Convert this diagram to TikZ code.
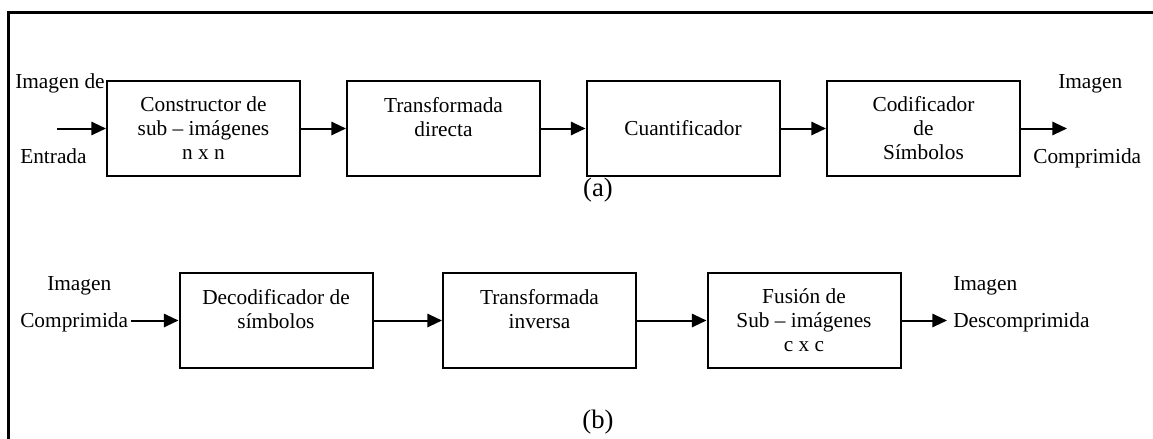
\documentclass[tikz,border=0pt]{standalone}
\usepackage{fontspec}
\setmainfont{Liberation Serif}
\usetikzlibrary{arrows.meta}
\begin{document}
\begin{tikzpicture}[x=0.75pt,y=-0.75pt,
  block/.style={draw,line width=1.5pt,minimum width=144.75pt,minimum height=71.25pt,
    inner sep=0pt,align=center,font=\fontsize{16}{18}\selectfont},
  lbl/.style={inner sep=0pt,font=\fontsize{16}{18}\selectfont},
  partlabel/.style={inner sep=0pt,font=\fontsize{20}{22}\selectfont},
  flow/.style={line width=1.5pt,-{Triangle[length=11pt,width=10pt]}}]
\useasboundingbox (0,0) rectangle (1153,439);
% outer frame (top and left edges)
\draw[line width=2.25pt] (8,439) -- (8,12) -- (1153,12);

% (a) compression chain
\node[block] (a1) at (203.5,128.5) {Constructor de\\sub -- imágenes\\n x n};
\node[block] (a2) at (443.5,128.5) {Transformada\\directa\\\mbox{}};
\node[block] (a3) at (683,128.5) {Cuantificador};
\node[block] (a4) at (923.5,128.5) {Codificador\\de\\Símbolos};
\coordinate (ain) at (57,128.5);
\coordinate (aout) at (1067,128.5);
\node[lbl,anchor=base west] (ainT) at (15,88) {Imagen de};
\node[lbl,anchor=base west] (ainB) at (20,163) {Entrada};
\node[lbl,anchor=base west] (aoutT) at (1058,88) {Imagen};
\node[lbl,anchor=base west] (aoutB) at (1033,163) {Comprimida};
\draw[flow] (ain) -- (a1);
\draw[flow] (a1) -- (a2);
\draw[flow] (a2) -- (a3);
\draw[flow] (a3) -- (a4);
\draw[flow] (a4) -- (aout);
\node[partlabel,anchor=base] (capa) at (598,196) {(a)};

% (b) decompression chain
\node[block] (b1) at (276,320.5) {Decodificador de\\símbolos\\\mbox{}};
\node[block] (b2) at (539.5,320.5) {Transformada\\inversa\\\mbox{}};
\node[block] (b3) at (804,320.5) {Fusión de\\Sub -- imágenes\\c x c};
\coordinate (bin) at (131,320.5);
\coordinate (bout) at (947,320.5);
\node[lbl,anchor=base west] (binT) at (47,290) {Imagen};
\node[lbl,anchor=base west] (binB) at (20,327) {Comprimida};
\node[lbl,anchor=base west] (boutT) at (953,290) {Imagen};
\node[lbl,anchor=base west] (boutB) at (953,327) {Descomprimida};
\draw[flow] (bin) -- (b1);
\draw[flow] (b1) -- (b2);
\draw[flow] (b2) -- (b3);
\draw[flow] (b3) -- (bout);
\node[partlabel,anchor=base] (capb) at (598,428) {(b)};
\end{tikzpicture}
\end{document}
